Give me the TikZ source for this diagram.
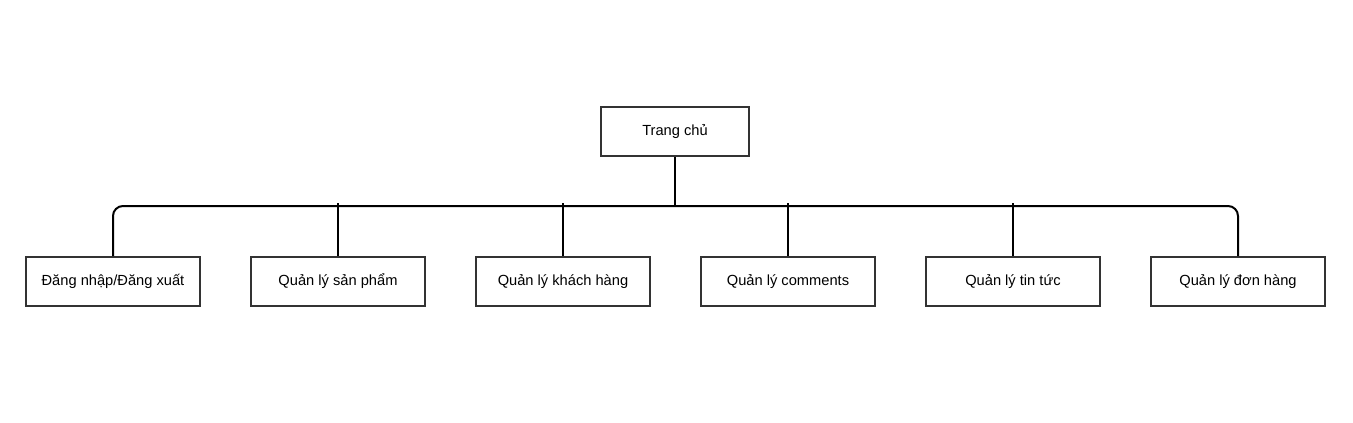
\documentclass[tikz,border=0pt]{standalone}
\usepackage{fontspec}
\setmainfont{Liberation Sans}
\usetikzlibrary{positioning}

\begin{document}
\begin{tikzpicture}[x=0.75pt,y=-0.75pt,
	box/.style={draw=black!80,line width=1.5pt,fill=white,minimum width=130.5pt,minimum height=36.75pt,inner sep=0pt,font=\fontsize{11}{13}\selectfont},
	link/.style={line width=1.5pt,black}]
\useasboundingbox (0,0) rectangle (1353,422);
	\node[box,minimum width=111pt] (0) at (675,131.5) {Trang chủ};
\node[box] (1) at (113,281.5) {Đăng nhập/Đăng xuất};
\node[box] (2) at (338,281.5) {Quản lý sản phẩm};
\node[box] (3) at (563,281.5) {Quản lý khách hàng};
\node[box] (4) at (788,281.5) {Quản lý comments};
\node[box] (5) at (1013,281.5) {Quản lý tin tức};
\node[box] (6) at (1238,281.5) {Quản lý đơn hàng};
\coordinate (bus) at (675,206);
\draw[link](0)--(bus);
\draw[link,rounded corners=7.5pt](1.north)|-(bus)-|(6.north);
\draw[link](2.north)--([yshift=2.25pt]2.north|-bus);
\draw[link](3.north)--([yshift=2.25pt]3.north|-bus);
\draw[link](4.north)--([yshift=2.25pt]4.north|-bus);
\draw[link](5.north)--([yshift=2.25pt]5.north|-bus);
	\end{tikzpicture}
\end{document}
